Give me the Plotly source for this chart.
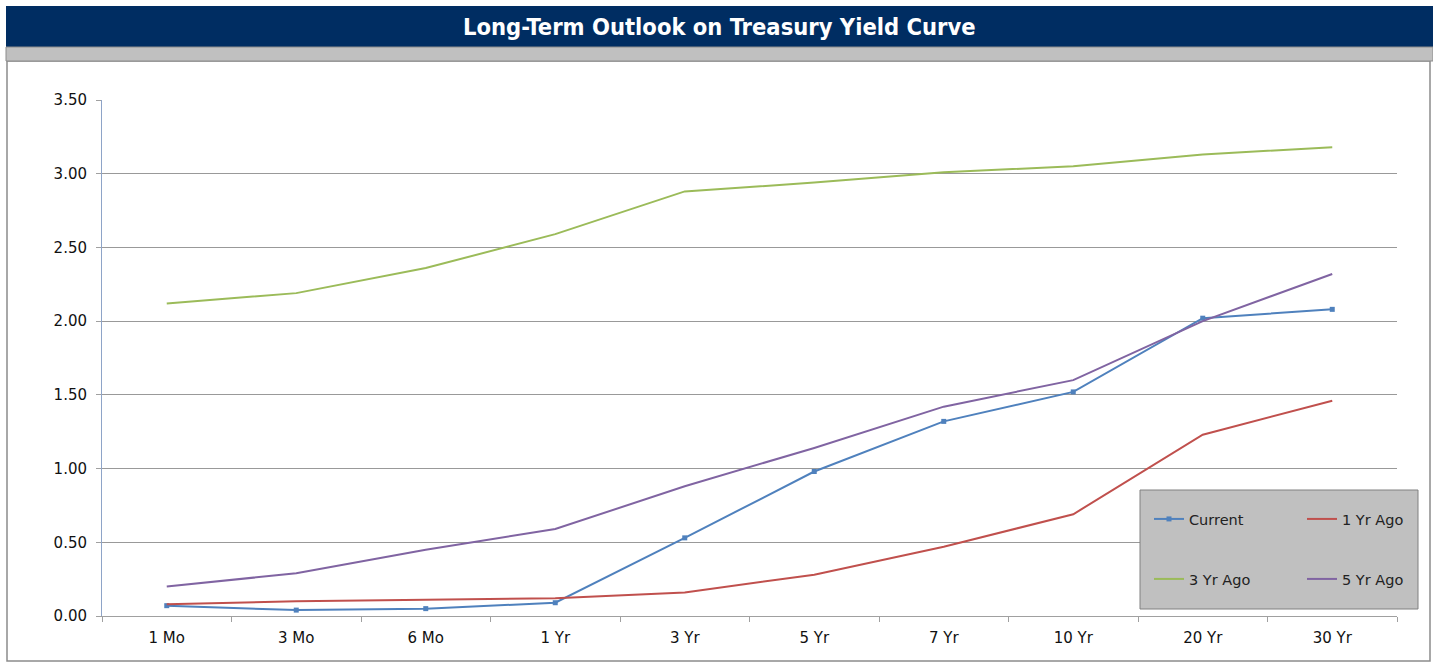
import plotly.graph_objects as go

categories = ["1 Mo", "3 Mo", "6 Mo", "1 Yr", "3 Yr", "5 Yr", "7 Yr", "10 Yr", "20 Yr", "30 Yr"]
current = [0.07, 0.04, 0.05, 0.09, 0.53, 0.98, 1.32, 1.52, 2.02, 2.08]
yr1_ago = [0.08, 0.10, 0.11, 0.12, 0.16, 0.28, 0.47, 0.69, 1.23, 1.46]
yr3_ago = [2.12, 2.19, 2.36, 2.59, 2.88, 2.94, 3.01, 3.05, 3.13, 3.18]
yr5_ago = [0.20, 0.29, 0.45, 0.59, 0.88, 1.14, 1.42, 1.60, 2.00, 2.32]
y_ticks = [0, 0.5, 1.0, 1.5, 2.0, 2.5, 3.0, 3.5]

W, H = 1433, 662
L, R, T, B = 102, 36, 100, 46
pw, ph = W - L - R, H - T - B

def px(x):
    return (x - L) / pw

def py(y):
    return (H - B - y) / ph

FONT = "DejaVu Sans, Verdana, sans-serif"

fig = go.Figure()
fig.add_trace(go.Scatter(x=categories, y=current, name="Current", mode="lines+markers",
                         line=dict(color="#4F81BD", width=2),
                         marker=dict(symbol="square", size=5, color="#4F81BD"),
                         legend="legend"))
fig.add_trace(go.Scatter(x=categories, y=yr1_ago, name="1 Yr Ago", mode="lines",
                         line=dict(color="#C0504D", width=2), legend="legend"))
fig.add_trace(go.Scatter(x=categories, y=yr3_ago, name="3 Yr Ago", mode="lines",
                         line=dict(color="#9BBB59", width=2), legend="legend2"))
fig.add_trace(go.Scatter(x=categories, y=yr5_ago, name="5 Yr Ago", mode="lines",
                         line=dict(color="#8064A2", width=2), legend="legend2"))

shapes = [
    dict(type="rect", xref="paper", yref="paper", x0=px(7), x1=px(1430), y0=py(661), y1=py(61),
         line=dict(color="#8C8C8C", width=1.5), fillcolor="rgba(0,0,0,0)", layer="below"),
    dict(type="rect", xref="paper", yref="paper", x0=px(6), x1=px(1433), y0=py(47), y1=py(6),
         line=dict(width=0), fillcolor="#002D62", layer="above"),
    dict(type="rect", xref="paper", yref="paper", x0=px(6), x1=px(1433), y0=py(61), y1=py(47),
         line=dict(color="#8C8C8C", width=1), fillcolor="#C0C0C0", layer="above"),
    dict(type="rect", xref="paper", yref="paper", x0=px(1140), x1=px(1418), y0=py(609), y1=py(490),
         line=dict(color="#808080", width=1), fillcolor="#C0C0C0", layer="above"),
]

fig.update_layout(
    width=W, height=H,
    margin=dict(l=L, r=R, t=T, b=B, autoexpand=False),
    paper_bgcolor="white", plot_bgcolor="white",
    font=dict(family=FONT, size=15, color="#111111"),
    shapes=shapes,
    annotations=[dict(text="<b>Long-Term Outlook on Treasury Yield Curve</b>", xref="paper", yref="paper",
                      x=px(719), y=py(27), xanchor="center", yanchor="middle", showarrow=False,
                      font=dict(family="DejaVu Sans Condensed, Liberation Sans Narrow, Arial Narrow, sans-serif",
                                size=23.5, color="white"))],
    legend=dict(orientation="h", x=px(1149), y=py(519), xanchor="left", yanchor="middle",
                bgcolor="rgba(0,0,0,0)", entrywidth=108, itemwidth=30,
                font=dict(family=FONT, size=14.5, color="#222222")),
    legend2=dict(orientation="h", x=px(1149), y=py(579), xanchor="left", yanchor="middle",
                 bgcolor="rgba(0,0,0,0)", entrywidth=108, itemwidth=30,
                 font=dict(family=FONT, size=14.5, color="#222222")),
    xaxis=dict(type="category", showgrid=False, showline=True, linecolor="#A0A0A0", linewidth=1,
               ticks="outside", tickson="boundaries", ticklen=5, tickcolor="#A0A0A0",
               ticklabelstandoff=8,
               range=[-0.5, len(categories) - 0.5], tickfont=dict(size=15)),
    yaxis=dict(range=[0, 3.5], tickvals=y_ticks, tickformat=".2f", showgrid=True, gridcolor="#999999",
               gridwidth=1, showline=True, linecolor="#8EA4C8", linewidth=1, ticks="outside",
               ticklen=5, tickcolor="#A0A0A0", zeroline=False, ticklabelstandoff=6,
               tickfont=dict(size=15)),
)

fig.write_html("out.html")
